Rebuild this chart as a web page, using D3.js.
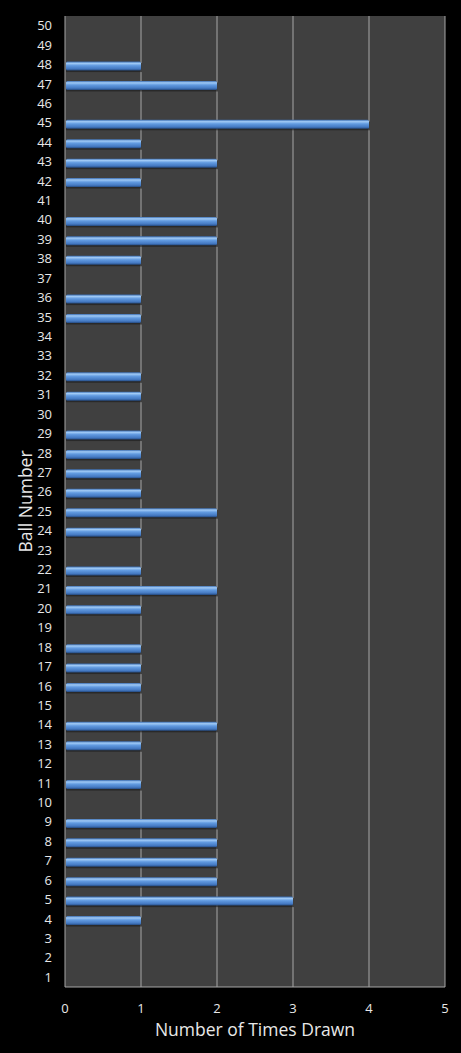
<!DOCTYPE html>
<html>
<head>
<meta charset="utf-8">
<script src="https://cdn.jsdelivr.net/npm/d3@7"></script>
<style>
  html, body { margin: 0; padding: 0; background: #000; }
  svg text { font-family: "Open Sans", "Noto Sans", sans-serif; fill: #e8e8e8; }
</style>
</head>
<body>
<div id="chart"></div>
<script>
// ball numbers 1..50 and how many times each one was drawn
var balls = d3.range(1, 51);
var timesDrawn = [
  0, 0, 0, 1, 3, 2, 2, 2, 2, 0,   // 1-10
  1, 0, 1, 2, 0, 1, 1, 1, 0, 1,   // 11-20
  2, 1, 0, 1, 2, 1, 1, 1, 1, 0,   // 21-30
  1, 1, 0, 0, 1, 1, 0, 1, 2, 2,   // 31-40
  0, 1, 2, 1, 4, 0, 2, 1, 0, 0    // 41-50
];
var xTicks = [0, 1, 2, 3, 4, 5];

var width = 461, height = 1053;
var margin = {top: 16, right: 16, bottom: 66, left: 65};
var plotW = width - margin.left - margin.right;
var plotH = height - margin.top - margin.bottom;

var svg = d3.select("#chart").append("svg")
    .attr("width", width)
    .attr("height", height);

svg.append("rect").attr("width", width).attr("height", height).attr("fill", "#000");

// bar gradient, glassy blue
var defs = svg.append("defs");
var grad = defs.append("linearGradient")
    .attr("id", "barGrad")
    .attr("x1", 0).attr("y1", 0).attr("x2", 0).attr("y2", 1);
grad.append("stop").attr("offset", "0%").attr("stop-color", "#3a6cb0");
grad.append("stop").attr("offset", "20%").attr("stop-color", "#a0caf6");
grad.append("stop").attr("offset", "45%").attr("stop-color", "#619ae0");
grad.append("stop").attr("offset", "80%").attr("stop-color", "#4479c2");
grad.append("stop").attr("offset", "100%").attr("stop-color", "#24497e");

var g = svg.append("g")
    .attr("transform", "translate(" + margin.left + "," + margin.top + ")");

var x = d3.scaleLinear().domain([0, 5]).range([0, plotW]);
var y = d3.scaleBand().domain(balls.slice().reverse()).range([0, plotH]);

//plot background
g.append("rect")
    .attr("width", plotW)
    .attr("height", plotH)
    .attr("fill", "#404040");

//vertical gridlines
g.selectAll(".grid")
    .data(xTicks)
    .enter()
    .append("line")
    .attr("class", "grid")
    .attr("x1", function(d) { return x(d); })
    .attr("x2", function(d) { return x(d); })
    .attr("y1", 0)
    .attr("y2", plotH)
    .attr("stroke", "#a6a6a6")
    .attr("stroke-width", 1);

//bottom border
g.append("line")
    .attr("x1", 0).attr("x2", plotW)
    .attr("y1", plotH).attr("y2", plotH)
    .attr("stroke", "#a6a6a6");

var data = balls.map(function(b, i) { return {ball: b, count: timesDrawn[i]}; })
    .filter(function(d) { return d.count > 0; });

var barH = 9;
var barOff = 1.5;
//bar shadow
g.selectAll(".shadow")
    .data(data)
    .enter()
    .append("rect")
    .attr("class", "shadow")
    .attr("x", 1)
    .attr("y", function(d) { return y(d.ball) + y.bandwidth() / 2 - barH / 2 + barOff + 1.5; })
    .attr("width", function(d) { return x(d.count); })
    .attr("height", barH)
    .attr("fill", "#1a1a1a")
    .attr("opacity", 0.6);

//bars
g.selectAll(".bar")
    .data(data)
    .enter()
    .append("rect")
    .attr("class", "bar")
    .attr("x", 1)
    .attr("y", function(d) { return y(d.ball) + y.bandwidth() / 2 - barH / 2 + barOff; })
    .attr("width", function(d) { return x(d.count) - 1; })
    .attr("height", barH)
    .attr("rx", 1.5)
    .attr("fill", "url(#barGrad)");

//y labels
g.selectAll(".ylab")
    .data(balls)
    .enter()
    .append("text")
    .attr("class", "ylab")
    .attr("x", -13)
    .attr("y", function(d) { return y(d) + y.bandwidth() / 2; })
    .attr("dy", "0.35em")
    .attr("text-anchor", "end")
    .style("font-size", "13px")
    .text(function(d) { return d; });

//x labels
g.selectAll(".xlab")
    .data(xTicks)
    .enter()
    .append("text")
    .attr("class", "xlab")
    .attr("x", function(d) { return x(d); })
    .attr("y", plotH + 21)
    .attr("dy", "0.35em")
    .attr("text-anchor", "middle")
    .style("font-size", "13px")
    .text(function(d) { return d; });

//axis titles
g.append("text")
    .attr("x", plotW / 2)
    .attr("y", plotH + 43)
    .attr("dy", "0.35em")
    .attr("text-anchor", "middle")
    .style("font-size", "17.5px")
    .text("Number of Times Drawn");

svg.append("text")
    .attr("transform", "translate(26," + (margin.top + plotH / 2) + ") rotate(-90)")
    .attr("dy", "0.35em")
    .attr("text-anchor", "middle")
    .style("font-size", "17.5px")
    .text("Ball Number");
</script>
</body>
</html>
